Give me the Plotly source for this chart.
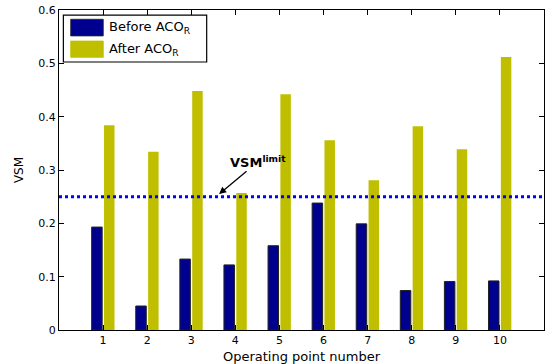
import plotly.graph_objects as go

# Voltage stability margin per operating point, before and after ACO_R tuning
op_points = [1, 2, 3, 4, 5, 6, 7, 8, 9, 10]
vsm_before = [0.193, 0.045, 0.133, 0.122, 0.158, 0.238, 0.199, 0.074, 0.091, 0.092]
vsm_after = [0.384, 0.334, 0.448, 0.257, 0.442, 0.356, 0.281, 0.382, 0.339, 0.512]
vsm_limit = 0.25

y_ticks = [0, 0.1, 0.2, 0.3, 0.4, 0.5, 0.6]

BLUE = "#00008F"
OLIVE = "#BFBF00"
FONT = "DejaVu Sans"

fig = go.Figure()
fig.add_trace(go.Bar(x=op_points, y=vsm_before, name="Before ACO<sub>R</sub>",
                     marker=dict(color=BLUE, line=dict(color="#222222", width=1))))
fig.add_trace(go.Bar(x=op_points, y=vsm_after, name="After ACO<sub>R</sub>",
                     marker=dict(color=OLIVE, line=dict(width=0))))

# limit line across the whole axis
fig.add_shape(type="line", xref="paper", x0=0, x1=1, yref="y", y0=vsm_limit, y1=vsm_limit,
              line=dict(color="#0000FF", width=3, dash="dot"), layer="above")

fig.add_annotation(x=3.56, y=vsm_limit, xref="x", yref="y",
                   text="<b>VSM<sup>limit</sup></b>", showarrow=True,
                   ax=42, ay=-35, standoff=4, arrowhead=2, arrowsize=1.1,
                   arrowwidth=1.3, arrowcolor="black",
                   font=dict(family=FONT, size=13, color="black"))

# legend box drawn by hand
fig.add_shape(type="rect", xref="paper", yref="paper", x0=0.009, x1=0.3045, y0=0.8375, y1=0.984,
              line=dict(color="black", width=1.2), fillcolor="white", layer="above")
legend_rows = [("Before ACO<sub>R</sub>", BLUE, 0.971, 0.919),
               ("After ACO<sub>R</sub>", OLIVE, 0.903, 0.852)]
for label, color, top, bottom in legend_rows:
    fig.add_shape(type="rect", xref="paper", yref="paper", x0=0.0241, x1=0.0913, y0=bottom, y1=top,
                  line=dict(color="#222222" if color == BLUE else color, width=0.8),
                  fillcolor=color, layer="above")
    fig.add_annotation(xref="paper", yref="paper", x=0.0983, y=(top + bottom) / 2,
                       text=label, showarrow=False, xanchor="left", yanchor="middle",
                       font=dict(family=FONT, size=13, color="black"))

fig.update_layout(
    width=546, height=364,
    margin=dict(l=59, r=2, t=10, b=34),
    paper_bgcolor="white", plot_bgcolor="white",
    barmode="group", bargap=0.44, bargroupgap=0.15,
    showlegend=False,
    font=dict(family=FONT, size=11, color="black"),
)
fig.update_xaxes(range=[0, 11], tickvals=op_points, ticktext=[str(v) for v in op_points],
                 showgrid=False, zeroline=False, showline=True, linecolor="black", linewidth=1.2,
                 mirror="ticks", ticks="inside", ticklen=5, tickcolor="black",
                 title=dict(text="Operating point number", font=dict(family=FONT, size=13), standoff=6),
                 tickfont=dict(family=FONT, size=11))
fig.update_yaxes(range=[0, 0.6], tickvals=y_ticks, ticktext=[f"{v:g}" for v in y_ticks],
                 showgrid=False, zeroline=False, showline=True, linecolor="black", linewidth=1.2,
                 mirror="ticks", ticks="inside", ticklen=5, tickcolor="black",
                 title=dict(text="VSM", font=dict(family=FONT, size=12), standoff=12),
                 tickfont=dict(family=FONT, size=11))

fig.write_html("out.html")
